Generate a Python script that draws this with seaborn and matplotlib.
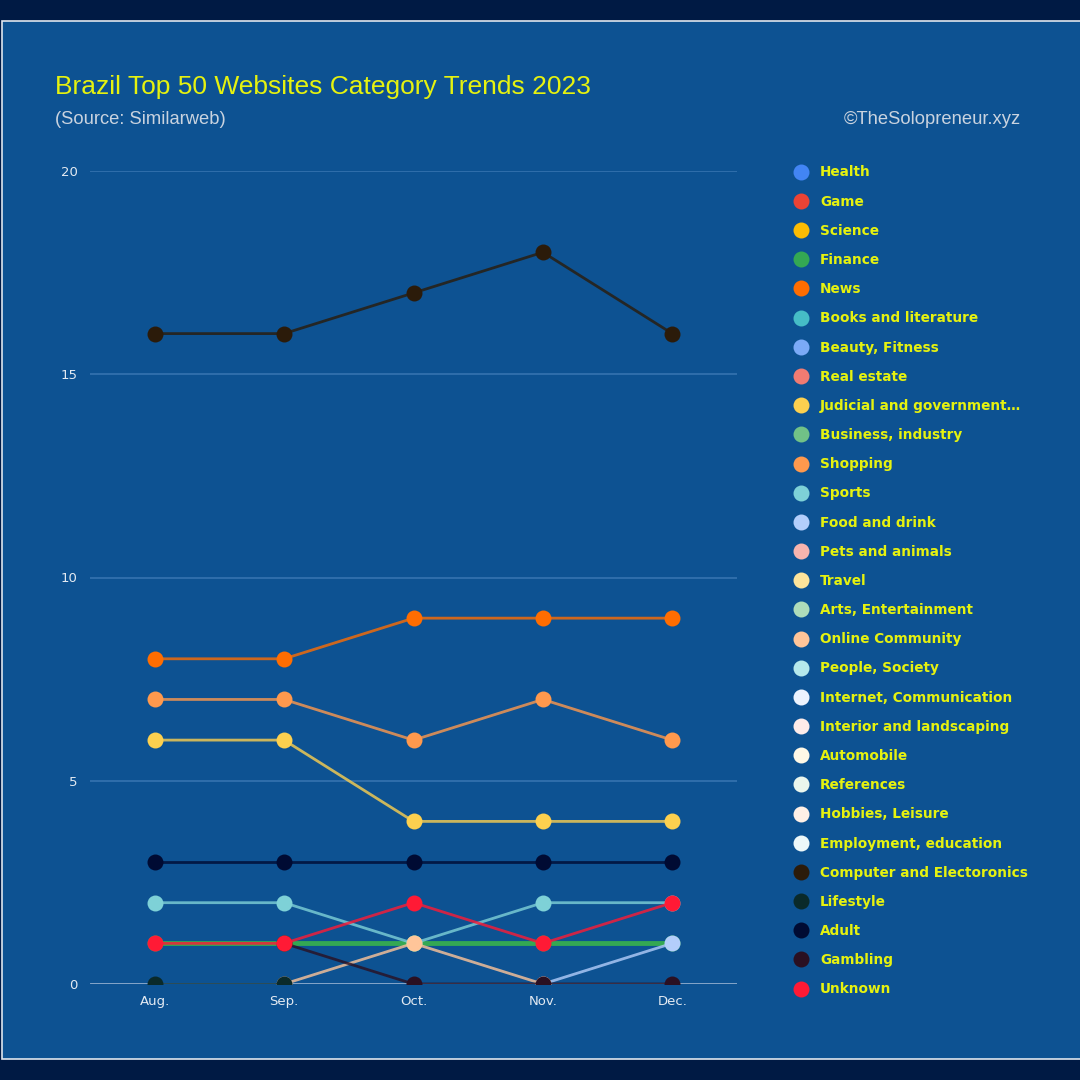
"""
Brazil Top 50 Websites - category trends, Aug-Dec 2023
"""
import numpy as np
import pandas as pd
import matplotlib.pyplot as plt
import matplotlib.patches as mpatches
from matplotlib.colors import to_rgb
from matplotlib.lines import Line2D
import seaborn as sns

sns.set_theme(style="white")

# ── data ────────────────────────────────────────────────────────────────────
months = ["Aug.", "Sep.", "Oct.", "Nov.", "Dec."]

categories = [
    "Health", "Game", "Science", "Finance", "News", "Books and literature",
    "Beauty, Fitness", "Real estate", "Judicial and government\u2026",
    "Business, industry", "Shopping", "Sports", "Food and drink",
    "Pets and animals", "Travel", "Arts, Entertainment", "Online Community",
    "People, Society", "Internet, Communication", "Interior and landscaping",
    "Automobile", "References", "Hobbies, Leisure", "Employment, education",
    "Computer and Electoronics", "Lifestyle", "Adult", "Gambling", "Unknown",
]

colors = [
    "#4285f4", "#ea4335", "#fbbc04", "#34a853", "#ff6d01", "#46bdc6",
    "#7baaf7", "#f07b72", "#fcd04f", "#71c287", "#ff994d", "#7ed1d7",
    "#b3cefb", "#f7b4ae", "#fde49b", "#aedcba", "#ffc599", "#b5e8eb",
    "#ecf3fe", "#fdebe9", "#fff8e6", "#eaf6ed", "#fff0e6", "#edf8f9",
    "#2b1b0a", "#0a2a2a", "#000b33", "#2a1022", "#ff1a35",
]

nan = np.nan
computer = [16, 16, 17, 18, 16]
news = [8, 8, 9, 9, 9]
shopping = [7, 7, 6, 7, 6]
judicial = [6, 6, 4, 4, 4]
adult = [3, 3, 3, 3, 3]
sports = [2, 2, 1, 2, 2]
unknown = [1, 1, 2, 1, 2]
finance = [1, 1, 1, 1, 1]
gambling = [nan, 1, 0, 0, 0]
lifestyle = [0, 0, nan, nan, nan]
online_community = [nan, 0, 1, 0, nan]
food_drink = [nan, nan, nan, 0, 1]

series = {
    "Finance": finance,
    "News": news,
    "Judicial and government\u2026": judicial,
    "Shopping": shopping,
    "Sports": sports,
    "Food and drink": food_drink,
    "Online Community": online_community,
    "Computer and Electoronics": computer,
    "Lifestyle": lifestyle,
    "Adult": adult,
    "Gambling": gambling,
    "Unknown": unknown,
}

rows = []
for cat, vals in series.items():
    for m, v in zip(months, vals):
        rows.append({"month": m, "category": cat, "sites": v})
df = pd.DataFrame(rows).dropna()

palette = dict(zip(categories, colors))
hue_order = [c for c in categories if c in series]

# ── figure ──────────────────────────────────────────────────────────────────
BG = "#001a44"
PANEL = "#0d5292"
YELLOW = "#e6f20f"
FONT = ["Liberation Sans Narrow", "Liberation Sans", "DejaVu Sans"]

fig = plt.figure(figsize=(10.8, 10.8), dpi=100, facecolor=BG)
fig.patches.append(mpatches.Rectangle((2 / 1080, 1 - 1059 / 1080), 1.1, (1059 - 21) / 1080,
                                      transform=fig.transFigure, facecolor=PANEL,
                                      edgecolor="#dfe6ee", linewidth=1.2, zorder=-5))

ax = fig.add_axes([90 / 1080, 1 - 984 / 1080, (737 - 90) / 1080, (984 - 171) / 1080])
ax.set_zorder(2)
ax.set_facecolor("none")

for y in [5, 10, 15, 20]:
    ax.axhline(y, color="#3573b0", lw=1.2, zorder=1)
ax.axhline(0, color="#a9bfd9", lw=1.8, zorder=1.5)

sns.lineplot(data=df, x="month", y="sites", hue="category", hue_order=hue_order,
             palette=palette, marker="o", markersize=11.5, markeredgewidth=0,
             linewidth=2, sort=False, legend=False, ax=ax)

# lines a little see-through, markers solid
for line in ax.get_lines():
    c = line.get_color()
    if not isinstance(c, str) or len(line.get_xdata()) < 2 or line.get_marker() != "o":
        continue
    if c == palette["Finance"]:
        line.set_linewidth(3.5)
        continue
    line.set_color((*to_rgb(c), 0.8))
    line.set_markerfacecolor(c)

ax.set_xlim(-0.5, 4.5)
ax.set_ylim(0, 20)
ax.set_yticks([0, 5, 10, 15, 20])
ax.set_xlabel("")
ax.set_ylabel("")
for s in ax.spines.values():
    s.set_visible(False)
ax.tick_params(axis="both", length=0, colors="#e3eaf2", labelsize=9.5)
ax.tick_params(axis="y", pad=9)
ax.tick_params(axis="x", pad=8)
ax.grid(False)

# ── titles ──────────────────────────────────────────────────────────────────
fig.text(55 / 1080, 1 - 87 / 1080, "Brazil Top 50 Websites Category Trends 2023",
         color=YELLOW, fontsize=19, va="center", ha="left", family=FONT)
fig.text(55 / 1080, 1 - 119 / 1080, "(Source: Similarweb)", color="#c9d3df",
         fontsize=13.2, va="center", ha="left", family=FONT)
fig.text(1021 / 1080, 1 - 119 / 1080, "\u00a9TheSolopreneur.xyz", color="#c9d3df",
         fontsize=13.2, va="center", ha="right", family=FONT)

# ── legend ──────────────────────────────────────────────────────────────────
handles = [Line2D([], [], linestyle="none", marker="o", markersize=11.5,
                  markerfacecolor=c, markeredgewidth=0) for c in colors]
leg = fig.legend(handles, categories, loc="upper left",
                 bbox_to_anchor=(794.5 / 1080, 1 - 165.5 / 1080),
                 frameon=False, handlelength=1.0, handletextpad=0.88,
                 labelspacing=1.115, borderpad=0, borderaxespad=0,
                 prop={"size": 9.8, "weight": "bold", "family": "DejaVu Sans"})
for t in leg.get_texts():
    t.set_color(YELLOW)

plt.savefig("out.png", dpi=100, facecolor=BG)
plt.close()
